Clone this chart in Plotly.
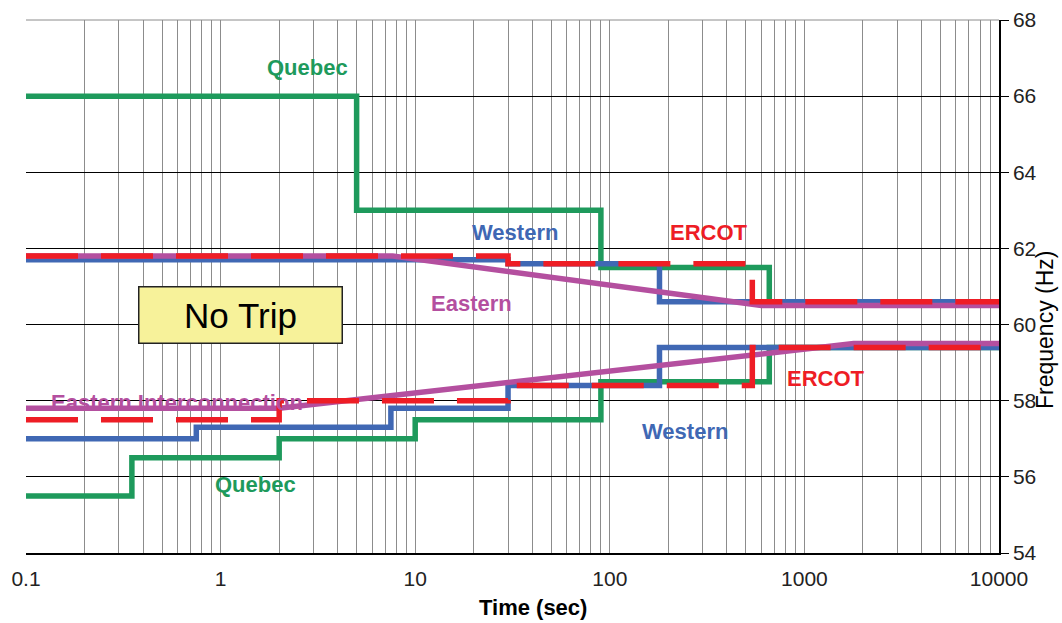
import plotly.graph_objects as go
import numpy as np

# ---------------- data ----------------
# step curves: (time breakpoints in s, frequency level holding from that time)
quebec_hi_t = [0.1, 5, 90, 660, 10000]
quebec_hi_f = [66.0, 63.0, 61.5, 60.6, 60.6]
quebec_lo_t = [0.1, 0.35, 2, 10, 90, 660, 10000]
quebec_lo_f = [55.5, 56.5, 57.0, 57.5, 58.5, 59.4, 59.4]

western_hi_t = [0.1, 30, 180, 10000]
western_hi_f = [61.7, 61.6, 60.6, 60.6]
western_lo_t = [0.1, 0.75, 7.5, 30, 180, 10000]
western_lo_f = [57.0, 57.3, 57.8, 58.4, 59.4, 59.4]

ercot_hi_t = [0.1, 30, 540, 10000]
ercot_hi_f = [61.8, 61.6, 60.6, 60.6]
ercot_lo_t = [0.1, 2, 30, 540, 10000]
ercot_lo_f = [57.5, 58.0, 58.4, 59.4, 59.4]

# Eastern: straight segments on log-time axis
eastern_hi_t = [0.1, 7.66, 601, 10000]
eastern_hi_f = [61.8, 61.8, 60.5, 60.5]
eastern_lo_t = [0.1, 2, 1791, 10000]
eastern_lo_f = [57.8, 57.8, 59.5, 59.5]

y_ticks = [54, 56, 58, 60, 62, 64, 66, 68]
x_decades = [0.1, 1, 10, 100, 1000, 10000]
x_decade_labels = ["0.1", "1", "10", "100", "1000", "10000"]

# ---------------- styles ----------------
GREEN = "#1e9a5c"
BLUE = "#4068b4"
PURPLE = "#b44f9f"
RED = "#ee1d25"
FONT = "Arial, Liberation Sans, sans-serif"

fig = go.Figure()

def add(t, f, color, shape, dash=None):
    fig.add_trace(go.Scatter(
        x=t, y=f, mode="lines", line_shape=shape,
        line=dict(color=color, width=5.5, dash=dash),
        hoverinfo="skip", showlegend=False))

add(quebec_hi_t, quebec_hi_f, GREEN, "hv")
add(quebec_lo_t, quebec_lo_f, GREEN, "hv")
add(western_hi_t, western_hi_f, BLUE, "hv")
add(western_lo_t, western_lo_f, BLUE, "hv")
add(eastern_hi_t, eastern_hi_f, PURPLE, "linear")
add(eastern_lo_t, eastern_lo_f, PURPLE, "linear")
add(ercot_hi_t, ercot_hi_f, RED, "hv", "52px,23px")
add(ercot_lo_t, ercot_lo_f, RED, "hv", "52px,23px")

# minor + major vertical grid positions
grid_vals = []
for d in x_decades[:-1]:
    for k in range(1, 10):
        grid_vals.append(d * k)
grid_vals.append(x_decades[-1])
grid_text = []
for v in grid_vals:
    lab = ""
    for dv, dl in zip(x_decades, x_decade_labels):
        if abs(v - dv) < 1e-9 * max(dv, 1):
            lab = dl
    grid_text.append(lab)

fig.update_xaxes(
    type="log", range=[np.log10(x_decades[0]), np.log10(x_decades[-1])],
    tickvals=grid_vals, ticktext=grid_text,
    showgrid=True, gridcolor="#8c8c8c", gridwidth=1,
    showline=True, linecolor="black", linewidth=1.5,
    ticks="outside", ticklen=6, tickcolor="rgba(0,0,0,0)",
    tickfont=dict(family=FONT, size=21, color="#222"),
    zeroline=False, automargin=False,
)
fig.update_yaxes(
    range=[y_ticks[0], y_ticks[-1]], tickvals=y_ticks,
    side="right", showgrid=True, gridcolor="black", gridwidth=1,
    showline=True, linecolor="black", linewidth=1.5,
    ticks="outside", ticklen=8, tickcolor="black",
    tickfont=dict(family=FONT, size=21, color="#222"),
    zeroline=False, automargin=False,
)

# top border (gray)
fig.add_shape(type="line", xref="paper", yref="paper", x0=0, x1=1, y0=1, y1=1,
              line=dict(color="#8c8c8c", width=1), layer="below")

def lab(text, px, py, color, size=22, bold=True):
    fig.add_annotation(
        text=f"<b>{text}</b>" if bold else text,
        xref="paper", yref="paper",
        x=(px - 26) / 973, y=(553 - py) / 533,
        showarrow=False, font=dict(family=FONT, size=size, color=color),
        xanchor="center", yanchor="middle")

lab("Quebec", 307, 67, GREEN)
lab("Western", 515, 233, BLUE)
lab("ERCOT", 709, 232, RED)
lab("Eastern", 471, 303, PURPLE)
lab("Eastern Interconnection", 177, 402, PURPLE)
lab("ERCOT", 826, 378, RED)
lab("Western", 685, 431, BLUE)
lab("Quebec", 255, 484, GREEN)

# No Trip box
fig.add_annotation(
    text="No Trip", xref="paper", yref="paper",
    x=(240 - 26) / 973, y=(553 - 315) / 533,
    showarrow=False, font=dict(family=FONT, size=35, color="black"),
    bgcolor="#f7f29a", bordercolor="#222", borderwidth=1.5,
    width=200, height=53, xanchor="center", yanchor="middle")

# axis titles
fig.add_annotation(text="<b>Time (sec)</b>", xref="paper", yref="paper",
                   x=(533 - 26) / 973, y=(553 - 607) / 533,
                   showarrow=False, font=dict(family=FONT, size=22, color="black"),
                   xanchor="center", yanchor="middle")
fig.add_annotation(text="Frequency (Hz)", xref="paper", yref="paper",
                   x=(1045 - 26) / 973, y=(553 - 330) / 533, textangle=-90,
                   showarrow=False, font=dict(family=FONT, size=23, color="black"),
                   xanchor="center", yanchor="middle")

fig.update_layout(
    width=1062, height=623,
    margin=dict(l=26, r=63, t=20, b=70, autoexpand=False),
    paper_bgcolor="white", plot_bgcolor="white",
    showlegend=False,
)

fig.write_html("out.html", config={"displayModeBar": False},
               post_script="document.body.style.margin='0';document.body.style.padding='0';")
